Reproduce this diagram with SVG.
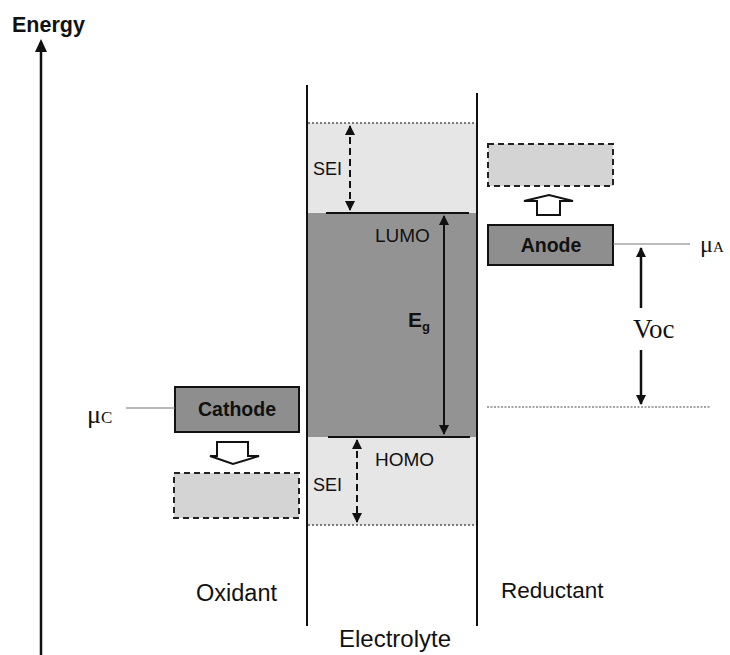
<svg xmlns="http://www.w3.org/2000/svg" width="730" height="655" viewBox="0 0 730 655">
<defs>
<style>
.sans{font-family:"Liberation Sans",Arial,sans-serif;fill:#111}
.serif{font-family:"Liberation Serif","Times New Roman",serif;fill:#111}
.ln{stroke:#111;fill:none}
.box{fill:#8e8e8e;stroke:#111;stroke-width:2}
.dbox{fill:#d4d4d4;stroke:#222;stroke-width:2;stroke-dasharray:6 4}
.thin{stroke:#777;stroke-width:1.2}
</style>
<marker id="ah" viewBox="0 0 10 10" refX="9" refY="5" markerWidth="10" markerHeight="10" markerUnits="userSpaceOnUse" orient="auto-start-reverse">
<path d="M0,0 L10,5 L0,10 z" fill="#111"/>
</marker>
</defs>
<rect width="730" height="655" fill="#fff"/>

<g id="energy-axis">
<line class="ln" x1="41" y1="655" x2="41" y2="45" stroke-width="2.5"/>
<path d="M35,52 L41,39 L47,52 z" fill="#111"/>
<text class="sans" x="12" y="32" font-size="21.5" font-weight="bold">Energy</text>
</g>

<g id="electrolyte">
<rect x="308" y="123" width="168" height="90" fill="#e6e6e6"/>
<rect x="308" y="213" width="168" height="224" fill="#939393"/>
<rect x="308" y="437" width="168" height="88" fill="#e6e6e6"/>
<line x1="308" y1="123" x2="476" y2="123" stroke="#555" stroke-width="1.5" stroke-dasharray="2 2"/>
<line x1="308" y1="525" x2="476" y2="525" stroke="#555" stroke-width="1.5" stroke-dasharray="2 2"/>
<line class="ln" x1="307" y1="85" x2="307" y2="626" stroke-width="2"/>
<line class="ln" x1="477" y1="93" x2="477" y2="626" stroke-width="2"/>
<text class="sans" x="395" y="647" font-size="24" text-anchor="middle">Electrolyte</text>
</g>

<g id="lumo">
<line class="ln" x1="326" y1="213" x2="469" y2="213" stroke-width="2"/>
<text class="sans" x="375" y="242" font-size="19">LUMO</text>
</g>

<g id="homo">
<line class="ln" x1="328" y1="437" x2="470" y2="437" stroke-width="2"/>
<text class="sans" x="375" y="466" font-size="19">HOMO</text>
</g>

<g id="sei-top">
<line class="ln" x1="350" y1="126" x2="350" y2="210" stroke-width="2" stroke-dasharray="7 4" marker-start="url(#ah)" marker-end="url(#ah)"/>
<text class="sans" x="313" y="175" font-size="18">SEI</text>
</g>

<g id="sei-bottom">
<line class="ln" x1="357" y1="440" x2="357" y2="522" stroke-width="2" stroke-dasharray="7 4" marker-start="url(#ah)" marker-end="url(#ah)"/>
<text class="sans" x="313" y="491" font-size="18">SEI</text>
</g>

<g id="eg">
<line class="ln" x1="444" y1="216" x2="444" y2="434" stroke-width="2" marker-start="url(#ah)" marker-end="url(#ah)"/>
<text class="sans" x="408" y="327" font-size="21" font-weight="bold">E<tspan font-size="13" dy="4">g</tspan></text>
</g>

<g id="anode">
<rect class="box" x="488" y="225" width="125" height="40"/>
<text class="sans" x="551" y="252" font-size="19.5" font-weight="bold" text-anchor="middle">Anode</text>
<line class="thin" x1="613" y1="244" x2="690" y2="244"/>
<text class="serif" x="700" y="252" font-size="24">μ<tspan font-size="15">A</tspan></text>
</g>

<g id="anode-shift">
<rect class="dbox" x="488" y="144" width="125" height="42"/>
<path d="M537,215 L537,201 L524,201 L549,195 L573,201 L560,201 L560,215 z" fill="#fff" stroke="#111" stroke-width="2" stroke-linejoin="miter"/>
</g>

<g id="cathode">
<rect class="box" x="175" y="387" width="124" height="45"/>
<text class="sans" x="237" y="416" font-size="19.5" font-weight="bold" text-anchor="middle">Cathode</text>
<line class="thin" x1="126" y1="408" x2="175" y2="408"/>
<text class="serif" x="87" y="423" font-size="26">μ<tspan font-size="17">C</tspan></text>
</g>

<g id="cathode-shift">
<path d="M217,442 L248,442 L248,456 L259,456 L233,464 L210,456 L217,456 z" fill="#fff" stroke="#111" stroke-width="2"/>
<rect class="dbox" x="174" y="473" width="125" height="45"/>
</g>

<g id="voc">
<line x1="487" y1="407" x2="710" y2="407" stroke="#888" stroke-width="1.5" stroke-dasharray="2 1.5"/>
<line class="ln" x1="641" y1="248" x2="641" y2="308" stroke-width="2.5" marker-start="url(#ah)"/>
<line class="ln" x1="641" y1="350" x2="641" y2="404" stroke-width="2.5" marker-end="url(#ah)"/>
<text class="serif" x="633" y="338" font-size="27">Voc</text>
</g>

<g id="labels">
<text class="sans" x="196" y="601" font-size="23.5">Oxidant</text>
<text class="sans" x="501" y="598" font-size="22.5">Reductant</text>
</g>
</svg>
